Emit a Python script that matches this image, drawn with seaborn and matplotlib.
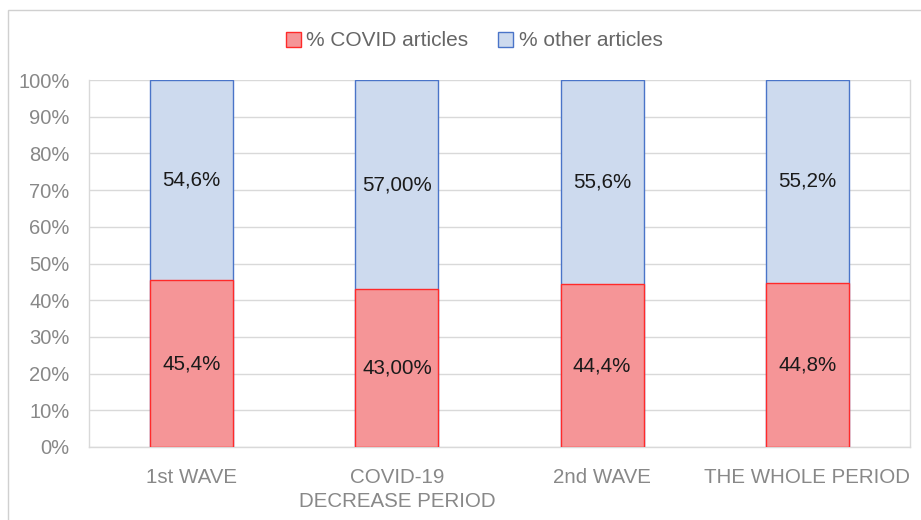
import matplotlib
matplotlib.use("Agg")
import matplotlib.pyplot as plt
import seaborn as sns
import pandas as pd
from matplotlib.patches import Rectangle, Patch

categories = ["1st WAVE", "COVID-19\nDECREASE PERIOD", "2nd WAVE", "THE WHOLE PERIOD"]
covid_pct = [45.4, 43.0, 44.4, 44.8]
other_pct = [54.6, 57.0, 55.6, 55.2]
covid_labels = ["45,4%", "43,00%", "44,4%", "44,8%"]
other_labels = ["54,6%", "57,00%", "55,6%", "55,2%"]
yticks = [0, 10, 20, 30, 40, 50, 60, 70, 80, 90, 100]

sns.set_theme(style="white")
plt.rcParams['font.family'] = ['Liberation Sans', 'DejaVu Sans']

df = pd.DataFrame({"cat": categories, "covid": covid_pct, "other": other_pct})
df["total"] = df["covid"] + df["other"]

W, H = 921, 520
fig = plt.figure(figsize=(W / 100, H / 100), dpi=100)
ax = fig.add_axes([89 / W, 1 - 447 / H, (910 - 89) / W, (447 - 80) / H])

red_fill, red_edge = "#F59597", "#FF2A2A"
blue_fill, blue_edge = "#CDDAEE", "#4A74C8"

sns.barplot(data=df, x="cat", y="total", color=blue_fill, edgecolor=blue_edge,
            linewidth=1.0, width=0.405, ax=ax, saturation=1, zorder=2)
sns.barplot(data=df, x="cat", y="covid", color=red_fill, edgecolor=red_edge,
            linewidth=1.0, width=0.405, ax=ax, saturation=1, zorder=3)

for i, (c, o) in enumerate(zip(covid_pct, other_pct)):
    ax.text(i, c / 2, covid_labels[i], ha="center", va="center", fontsize=14.8, color="#1a1a1a", zorder=5)
    ax.text(i, c + o / 2, other_labels[i], ha="center", va="center", fontsize=14.8, color="#1a1a1a", zorder=5)

ax.set_ylim(0, 100)
ax.set_xlim(-0.5, len(categories) - 0.5)
ax.set_yticks(yticks)
ax.set_yticklabels([f"{v}%" for v in yticks])
ax.yaxis.grid(True, color="#D9D9D9", linewidth=1.0, zorder=0)
ax.set_axisbelow(True)
ax.set_xlabel("")
ax.set_ylabel("")
ax.tick_params(axis="both", length=0, colors="#888888")
ax.tick_params(axis="y", pad=14, labelsize=14.5)
ax.tick_params(axis="x", pad=15, labelsize=14.8)
for lab in ax.get_xticklabels():
    lab.set_linespacing(1.35)
for s in ax.spines.values():
    s.set_color("#D9D9D9")
    s.set_linewidth(1.0)
ax.spines["top"].set_visible(False)

handles = [Patch(facecolor=red_fill, edgecolor=red_edge, label="% COVID articles"),
           Patch(facecolor=blue_fill, edgecolor=blue_edge, label="% other articles")]
fig.legend(handles=handles, loc="center", bbox_to_anchor=(474 / W, 1 - 41 / H), ncol=2,
           frameon=False, fontsize=15, labelcolor="#666666", handlelength=0.75,
           handleheight=0.75, handletextpad=0.25, columnspacing=1.4)

fig.patches.append(Rectangle((8 / W, -0.1), 1.1, 1 - 10 / H + 0.1, transform=fig.transFigure,
                             fill=False, edgecolor="#D0D0D0", linewidth=1.0))

fig.savefig("out.png", dpi=100)
